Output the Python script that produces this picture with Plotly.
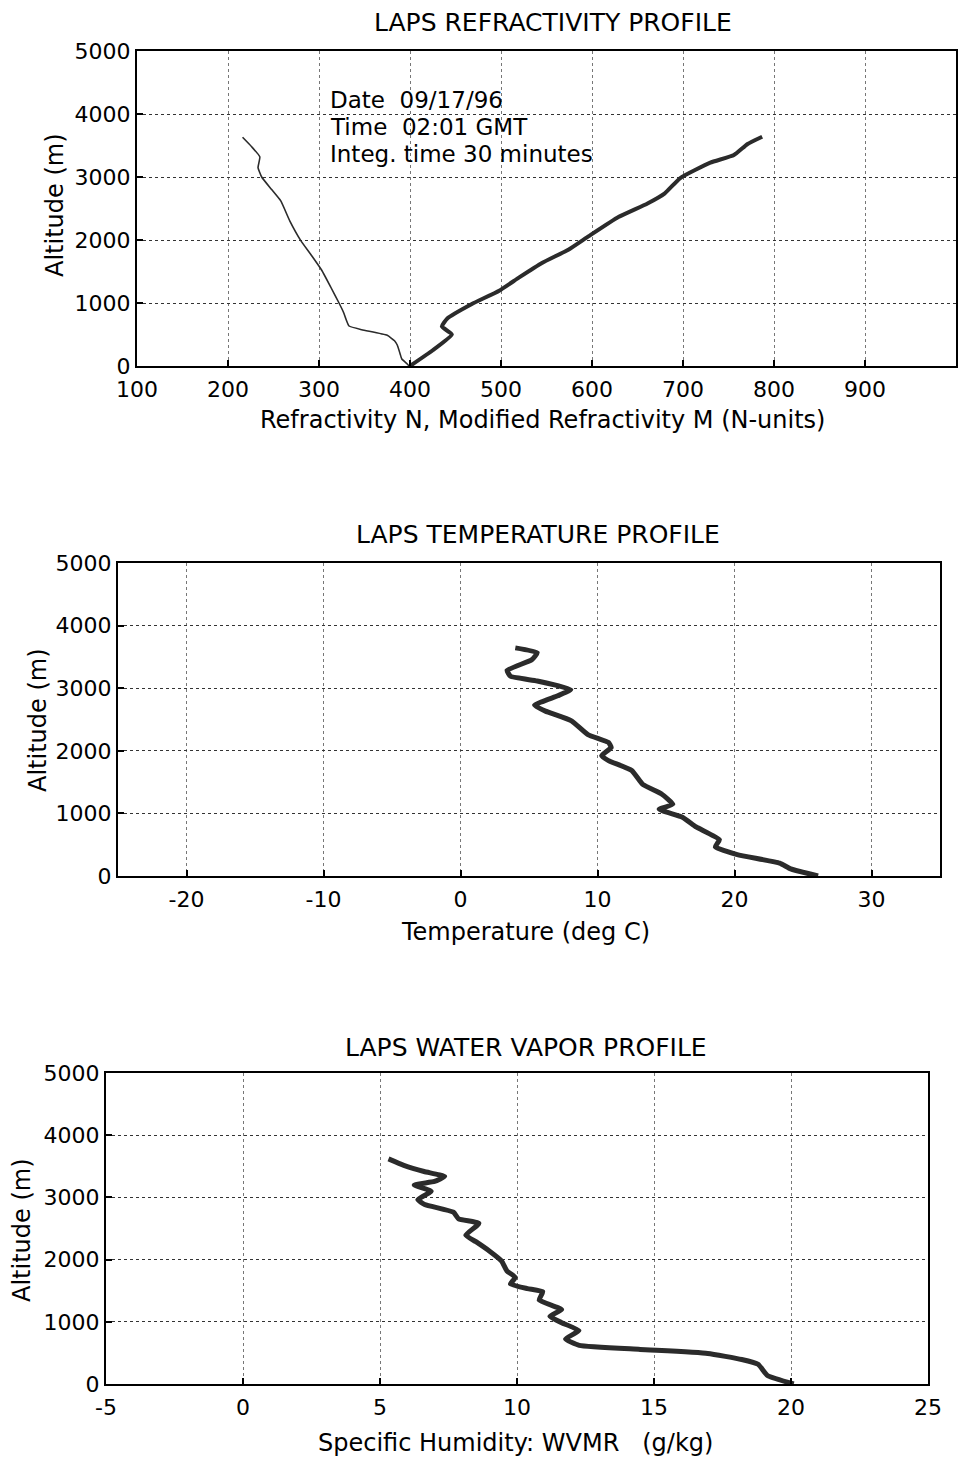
import plotly.graph_objects as go

# ---------------- data ----------------
# Panel 1: refractivity profile
N_alt = [3630, 3480, 3320, 3150, 3000, 2800, 2620, 2300, 1990, 1750, 1520, 1250, 1000, 850, 730, 635, 576, 487, 400, 333, 200, 111, 32, 0]
N_val = [216, 226, 235, 233, 237, 248, 258, 268, 280, 292, 303, 313, 322, 327, 330, 333, 347, 375, 383, 386, 389, 391, 397, 399]
M_alt = [0, 250, 500, 627, 754, 984, 1195, 1406, 1635, 1846, 2057, 2365, 2580, 2741, 2984, 3228, 3349, 3524, 3638]
M_val = [400, 425, 446, 435, 441, 468, 498, 520, 545, 574, 596, 629, 661, 680, 697, 730, 756, 771, 787]

# Panel 2: temperature profile
T_alt = [3644, 3567, 3453, 3285, 3190, 3116, 2979, 2879, 2729, 2634, 2479, 2258, 2133, 2053, 1921, 1843,
         1687, 1464, 1306, 1148, 1065, 940, 784, 579, 465, 342, 206, 113, 0]
T_val = [4.0, 5.6, 5.2, 3.4, 3.65, 5.6, 8.05, 7.1, 5.4, 6.2, 8.1, 9.3, 10.8, 11.0, 10.3, 10.8,
         12.5, 13.3, 14.7, 15.5, 14.5, 16.2, 17.2, 18.9, 18.6, 20.2, 23.3, 24.1, 26.1]

# Panel 3: water vapor profile
W_alt = [3619, 3516, 3416, 3338, 3256, 3200, 3099, 2964, 2886, 2762, 2656, 2582, 2393, 2288, 2135, 1976,
         1819, 1714, 1607, 1533, 1483, 1351, 1197, 1087, 986, 859, 724, 621, 556, 492, 394, 318, 137, 0]
W_val = [5.31, 5.87, 6.61, 7.36, 6.99, 6.25, 6.87, 6.38, 6.63, 7.68, 7.87, 8.61, 8.13, 8.50, 9.0, 9.44,
         9.63, 9.94, 9.76, 10.38, 10.94, 10.81, 11.63, 11.2, 11.63, 12.26, 11.77, 12.27, 14.49, 16.96, 18.2, 18.8, 19.14, 20.1]

alt_ticks = [0, 1000, 2000, 3000, 4000, 5000]
x1_ticks = [100, 200, 300, 400, 500, 600, 700, 800, 900]
x2_ticks = [-20, -10, 0, 10, 20, 30]
x3_ticks = [-5, 0, 5, 10, 15, 20, 25]
x2_labels = ["-20", "-10", "0", "10", "20", "30"]
x3_labels = ["-5", "0", "5", "10", "15", "20", "25"]

titles = ["LAPS REFRACTIVITY PROFILE", "LAPS TEMPERATURE PROFILE", "LAPS WATER VAPOR PROFILE"]
xtitles = ["Refractivity N, Modified Refractivity M (N-units)", "Temperature (deg C)",
           "Specific Humidity: WVMR   (g/kg)"]
info_lines = ["Date  09/17/96", "Time  02:01 GMT", "Integ. time 30 minutes"]

# ---------------- figure ----------------
W, H = 967, 1462
FONT = "DejaVu Sans, Liberation Sans, Arial, sans-serif"
INK = "#2b2b2b"

def px(x):
    return x / W

def py(y):
    return 1 - y / H

fig = go.Figure()
fig.add_trace(go.Scatter(x=N_val, y=N_alt, mode="lines",
                         line=dict(color=INK, width=1.6, shape="spline", smoothing=0.4),
                         xaxis="x", yaxis="y", showlegend=False))
fig.add_trace(go.Scatter(x=M_val, y=M_alt, mode="lines",
                         line=dict(color=INK, width=4, shape="spline", smoothing=0.4),
                         xaxis="x", yaxis="y", showlegend=False))
fig.add_trace(go.Scatter(x=T_val, y=T_alt, mode="lines",
                         line=dict(color=INK, width=5, shape="spline", smoothing=0.4),
                         xaxis="x2", yaxis="y2", showlegend=False))
fig.add_trace(go.Scatter(x=W_val, y=W_alt, mode="lines",
                         line=dict(color=INK, width=5, shape="spline", smoothing=0.4),
                         xaxis="x3", yaxis="y3", showlegend=False))

panels = [
    # (left, right, top, bottom) in px, x range, x ticks, x tick labels
    ((137, 956, 51, 366), [100, 1000], x1_ticks, [str(v) for v in x1_ticks]),
    ((118, 940, 563, 876), [-25, 35], x2_ticks, x2_labels),
    ((106, 928, 1073, 1384), [-5, 25], x3_ticks, x3_labels),
]

common = dict(showline=True, mirror=True, linecolor="black", linewidth=2,
              ticks="inside", ticklen=6, tickcolor="black", tickwidth=1.5,
              showgrid=True, gridwidth=1, griddash="dot",
              zeroline=False, automargin=False,
              tickfont=dict(family=FONT, size=22, color="black"))

layout = dict(width=W, height=H, margin=dict(l=0, r=0, t=0, b=0, pad=0),
              paper_bgcolor="white", plot_bgcolor="white", showlegend=False)

for i, ((l, r, t, b), xr, xt, xl) in enumerate(panels):
    sfx = "" if i == 0 else str(i + 1)
    layout["xaxis" + sfx] = dict(domain=[px(l), px(r)], range=xr, tickvals=xt, ticktext=xl,
                                 anchor="y" + sfx, gridcolor="#777777", ticklabelstandoff=3, **common)
    layout["yaxis" + sfx] = dict(domain=[py(b), py(t)], range=[0, 5000], tickvals=alt_ticks,
                                 anchor="x" + sfx, gridcolor="#333333", **common)

fig.update_layout(**layout)

ann = []
title_pos = [(553, 22), (538, 535), (526, 1047)]
xtitle_pos = [(542, 420), (525, 932), (515, 1443)]
ytitle_pos = [(55, 205), (38, 720), (22, 1230)]
for i in range(3):
    ann.append(dict(x=px(title_pos[i][0]), y=py(title_pos[i][1]), xref="paper", yref="paper",
                    text=titles[i], showarrow=False, xanchor="center", yanchor="middle",
                    font=dict(family=FONT, size=25, color="black")))
    ann.append(dict(x=px(xtitle_pos[i][0]), y=py(xtitle_pos[i][1]), xref="paper", yref="paper",
                    text=xtitles[i], showarrow=False, xanchor="center", yanchor="middle",
                    font=dict(family=FONT, size=24, color="black")))
    ann.append(dict(x=px(ytitle_pos[i][0]), y=py(ytitle_pos[i][1]), xref="paper", yref="paper",
                    text="Altitude (m)", showarrow=False, textangle=-90, xanchor="center", yanchor="middle",
                    font=dict(family=FONT, size=24, color="black")))

for k, line in enumerate(info_lines):
    ann.append(dict(x=px(328), y=py(100 + 27 * k), xref="paper", yref="paper",
                    text=line, showarrow=False, xanchor="left", yanchor="middle",
                    font=dict(family=FONT, size=23, color="black")))

fig.update_layout(annotations=ann)
fig.write_html("out.html")
